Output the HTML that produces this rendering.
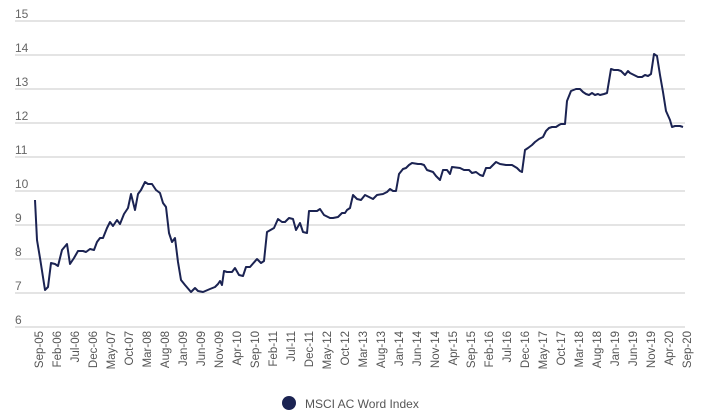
<!DOCTYPE html>
<html><head><meta charset="utf-8"><style>
html,body{margin:0;padding:0;background:#fff;}
svg{display:block;font-family:"Liberation Sans",sans-serif;}
</style></head><body>
<svg width="712" height="418" viewBox="0 0 712 418" xmlns="http://www.w3.org/2000/svg">
<g stroke="#c8c8c8" stroke-width="1">
<line x1="15" y1="21" x2="685" y2="21"/><line x1="15" y1="55" x2="685" y2="55"/>
<line x1="15" y1="89" x2="685" y2="89"/><line x1="15" y1="123" x2="685" y2="123"/>
<line x1="15" y1="157" x2="685" y2="157"/><line x1="15" y1="191" x2="685" y2="191"/>
<line x1="15" y1="225" x2="685" y2="225"/><line x1="15" y1="259" x2="685" y2="259"/>
<line x1="15" y1="293" x2="685" y2="293"/><line x1="15" y1="327" x2="685" y2="327"/>
</g>
<g fill="#666" font-size="12">
<text x="15" y="18">15</text><text x="15" y="52">14</text><text x="15" y="86">13</text>
<text x="15" y="120">12</text><text x="15" y="154">11</text><text x="15" y="188">10</text>
<text x="15" y="222">9</text><text x="15" y="256">8</text><text x="15" y="290">7</text><text x="15" y="324">6</text>
</g>
<polyline fill="none" stroke="#1b2352" stroke-width="2" stroke-linejoin="round" points="35,200 37,240 40,258 45,290 48,287 51,263 55,264 58,266 62,250 67,244 70,264 74,258 78,251 83,251 86,252 90,249 94,250 97,242 100,238 103,238 107,228 110,222 113,226 117,220 120,224 124,214 128,208 131,194 135,210 138,194 141,190 145,182 148,184 152,184 156,190 160,193 163,203 166,207 169,233 172,242 175,238 178,262 181,280 185,285 191,292 195,288 198,291 203,292 210,289 215,287 218,284 220,281 222,285 224,271 227,272 232,272 235,268 239,275 243,276 246,267 250,267 257,259 261,263 264,261 267,232 274,228 278,219 282,222 285,222 289,218 293,219 296,230 300,223 303,232 307,233 309,211 314,211 317,211 320,209 324,215 330,218 333,218 338,217 342,213 345,213 347,210 350,208 353,195 357,199 361,200 365,195 369,197 373,199 377,195 383,194 387,192 390,189 393,191 396,191 399,174 403,169 406,168 409,165 412,163 418,164 421,164 424,165 427,170 430,171 433,172 436,176 440,180 443,170 447,170 450,174 452,167 460,168 464,170 469,170 472,173 476,172 480,175 483,176 486,168 490,168 493,165 496,162 500,164 506,165 512,165 517,168 520,171 522,172 525,150 528,148 532,145 535,142 539,139 543,137 546,131 549,128 552,127 556,127 559,125 561,124 565,124 567,101 571,91 576,89 580,89 583,92 586,94 589,95 592,93 595,95 598,94 600,95 604,94 607,93 611,69 614,70 618,70 621,71 625,75 628,71 630,73 634,75 638,77 642,77 645,75 648,76 651,74 654,54 657,56 660,75 663,92 666,111 670,120 672,127 675,126 680,126 683,127"/>
<g fill="#555" font-size="11.5" text-anchor="end">
<text transform="translate(43,331) rotate(-90)">Sep-05</text>
<text transform="translate(61,331) rotate(-90)">Feb-06</text>
<text transform="translate(79,331) rotate(-90)">Jul-06</text>
<text transform="translate(97,331) rotate(-90)">Dec-06</text>
<text transform="translate(115,331) rotate(-90)">May-07</text>
<text transform="translate(133,331) rotate(-90)">Oct-07</text>
<text transform="translate(151,331) rotate(-90)">Mar-08</text>
<text transform="translate(169,331) rotate(-90)">Aug-08</text>
<text transform="translate(187,331) rotate(-90)">Jan-09</text>
<text transform="translate(205,331) rotate(-90)">Jun-09</text>
<text transform="translate(223,331) rotate(-90)">Nov-09</text>
<text transform="translate(241,331) rotate(-90)">Apr-10</text>
<text transform="translate(259,331) rotate(-90)">Sep-10</text>
<text transform="translate(277,331) rotate(-90)">Feb-11</text>
<text transform="translate(295,331) rotate(-90)">Jul-11</text>
<text transform="translate(313,331) rotate(-90)">Dec-11</text>
<text transform="translate(331,331) rotate(-90)">May-12</text>
<text transform="translate(349,331) rotate(-90)">Oct-12</text>
<text transform="translate(367,331) rotate(-90)">Mar-13</text>
<text transform="translate(385,331) rotate(-90)">Aug-13</text>
<text transform="translate(403,331) rotate(-90)">Jan-14</text>
<text transform="translate(421,331) rotate(-90)">Jun-14</text>
<text transform="translate(439,331) rotate(-90)">Nov-14</text>
<text transform="translate(457,331) rotate(-90)">Apr-15</text>
<text transform="translate(475,331) rotate(-90)">Sep-15</text>
<text transform="translate(493,331) rotate(-90)">Feb-16</text>
<text transform="translate(511,331) rotate(-90)">Jul-16</text>
<text transform="translate(529,331) rotate(-90)">Dec-16</text>
<text transform="translate(547,331) rotate(-90)">May-17</text>
<text transform="translate(565,331) rotate(-90)">Oct-17</text>
<text transform="translate(583,331) rotate(-90)">Mar-18</text>
<text transform="translate(601,331) rotate(-90)">Aug-18</text>
<text transform="translate(619,331) rotate(-90)">Jan-19</text>
<text transform="translate(637,331) rotate(-90)">Jun-19</text>
<text transform="translate(655,331) rotate(-90)">Nov-19</text>
<text transform="translate(673,331) rotate(-90)">Apr-20</text>
<text transform="translate(691,331) rotate(-90)">Sep-20</text>
</g>
<circle cx="289" cy="403" r="7" fill="#1b2352"/>
<text x="305" y="408" fill="#555" font-size="12">MSCI AC Word Index</text>
</svg>
</body></html>
